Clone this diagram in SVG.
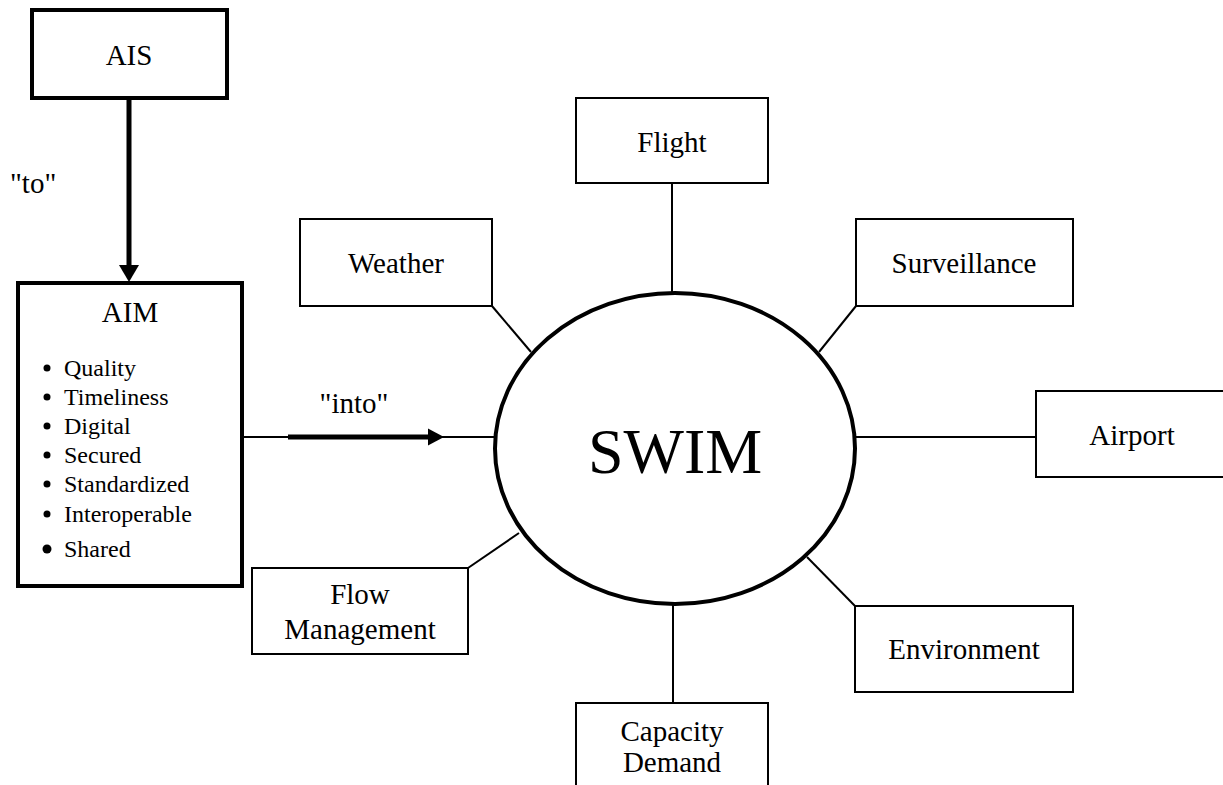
<svg xmlns="http://www.w3.org/2000/svg" width="1223" height="785" viewBox="0 0 1223 785">
<style>
  text { font-family: "Liberation Serif", "Times New Roman", serif; fill: #000; }
  .lbl { font-size: 29px; text-anchor: middle; }
  .item { font-size: 24px; }
  .box { fill: #fff; stroke: #000; stroke-width: 2; }
  .tbox { fill: #fff; stroke: #000; stroke-width: 4; }
  .conn { stroke: #000; stroke-width: 2; fill: none; }
  .thick { stroke: #000; stroke-width: 5; fill: none; }
</style>
<rect width="1223" height="785" fill="#fff"/>
<g id="connectors">
  <line class="conn" x1="672" y1="183" x2="672" y2="294"/>
  <line class="conn" x1="492" y1="306" x2="531" y2="352"/>
  <line class="conn" x1="856" y1="306" x2="819" y2="352"/>
  <line class="conn" x1="856" y1="437" x2="1036" y2="437"/>
  <line class="conn" x1="855" y1="606" x2="807" y2="557"/>
  <line class="conn" x1="673" y1="604" x2="673" y2="703"/>
  <line class="conn" x1="468" y1="568" x2="519" y2="533"/>
  <line class="conn" x1="242" y1="437" x2="494" y2="437"/>
  <line class="thick" x1="288" y1="437" x2="430" y2="437"/>
  <polygon points="428,428.5 444,437 428,445.5" fill="#000"/>
  <line class="thick" x1="129" y1="98" x2="129" y2="267"/>
  <polygon points="119,265 139,265 129,282" fill="#000"/>
  <text x="10" y="193" style="font-size:29px">"to"</text>
  <text x="354" y="413" class="lbl">"into"</text>
</g>
<g id="swim">
  <ellipse cx="675" cy="448.5" rx="180" ry="155.5" fill="#fff" stroke="#000" stroke-width="4"/>
  <text x="675" y="473" style="font-size:64px" text-anchor="middle">SWIM</text>
</g>
<g id="ais">
  <rect class="tbox" x="32" y="10" width="195" height="88"/>
  <text x="129" y="65" class="lbl">AIS</text>
</g>
<g id="aim">
  <rect class="tbox" x="18" y="283" width="224" height="303"/>
  <text x="130" y="322" class="lbl">AIM</text>
  <circle cx="47" cy="368" r="3.5"/>
  <text x="64" y="376" class="item">Quality</text>
  <circle cx="47" cy="397" r="3.5"/>
  <text x="64" y="405" class="item">Timeliness</text>
  <circle cx="47" cy="426" r="3.5"/>
  <text x="64" y="434" class="item">Digital</text>
  <circle cx="47" cy="455" r="3.5"/>
  <text x="64" y="463" class="item">Secured</text>
  <circle cx="47" cy="484" r="3.5"/>
  <text x="64" y="492" class="item">Standardized</text>
  <circle cx="47" cy="514" r="3.5"/>
  <text x="64" y="522" class="item">Interoperable</text>
  <circle cx="47" cy="549" r="4.5"/>
  <text x="64" y="557" class="item">Shared</text>
</g>
<g id="flight">
  <rect class="box" x="576" y="98" width="192" height="85"/>
  <text x="672" y="152" class="lbl">Flight</text>
</g>
<g id="weather">
  <rect class="box" x="300" y="219" width="192" height="87"/>
  <text x="396" y="273" class="lbl">Weather</text>
</g>
<g id="surveillance">
  <rect class="box" x="856" y="219" width="217" height="87"/>
  <text x="964" y="273" class="lbl">Surveillance</text>
</g>
<g id="airport">
  <rect class="box" x="1036" y="391" width="200" height="86"/>
  <text x="1132" y="445" class="lbl">Airport</text>
</g>
<g id="environment">
  <rect class="box" x="855" y="606" width="218" height="86"/>
  <text x="964" y="659" class="lbl">Environment</text>
</g>
<g id="flow-management">
  <rect class="box" x="252" y="568" width="216" height="86"/>
  <text x="360" y="604" class="lbl">Flow</text>
  <text x="360" y="639" class="lbl">Management</text>
</g>
<g id="capacity-demand">
  <rect class="box" x="576" y="703" width="192" height="100"/>
  <text x="672" y="741" class="lbl">Capacity</text>
  <text x="672" y="772" class="lbl">Demand</text>
</g>
</svg>
